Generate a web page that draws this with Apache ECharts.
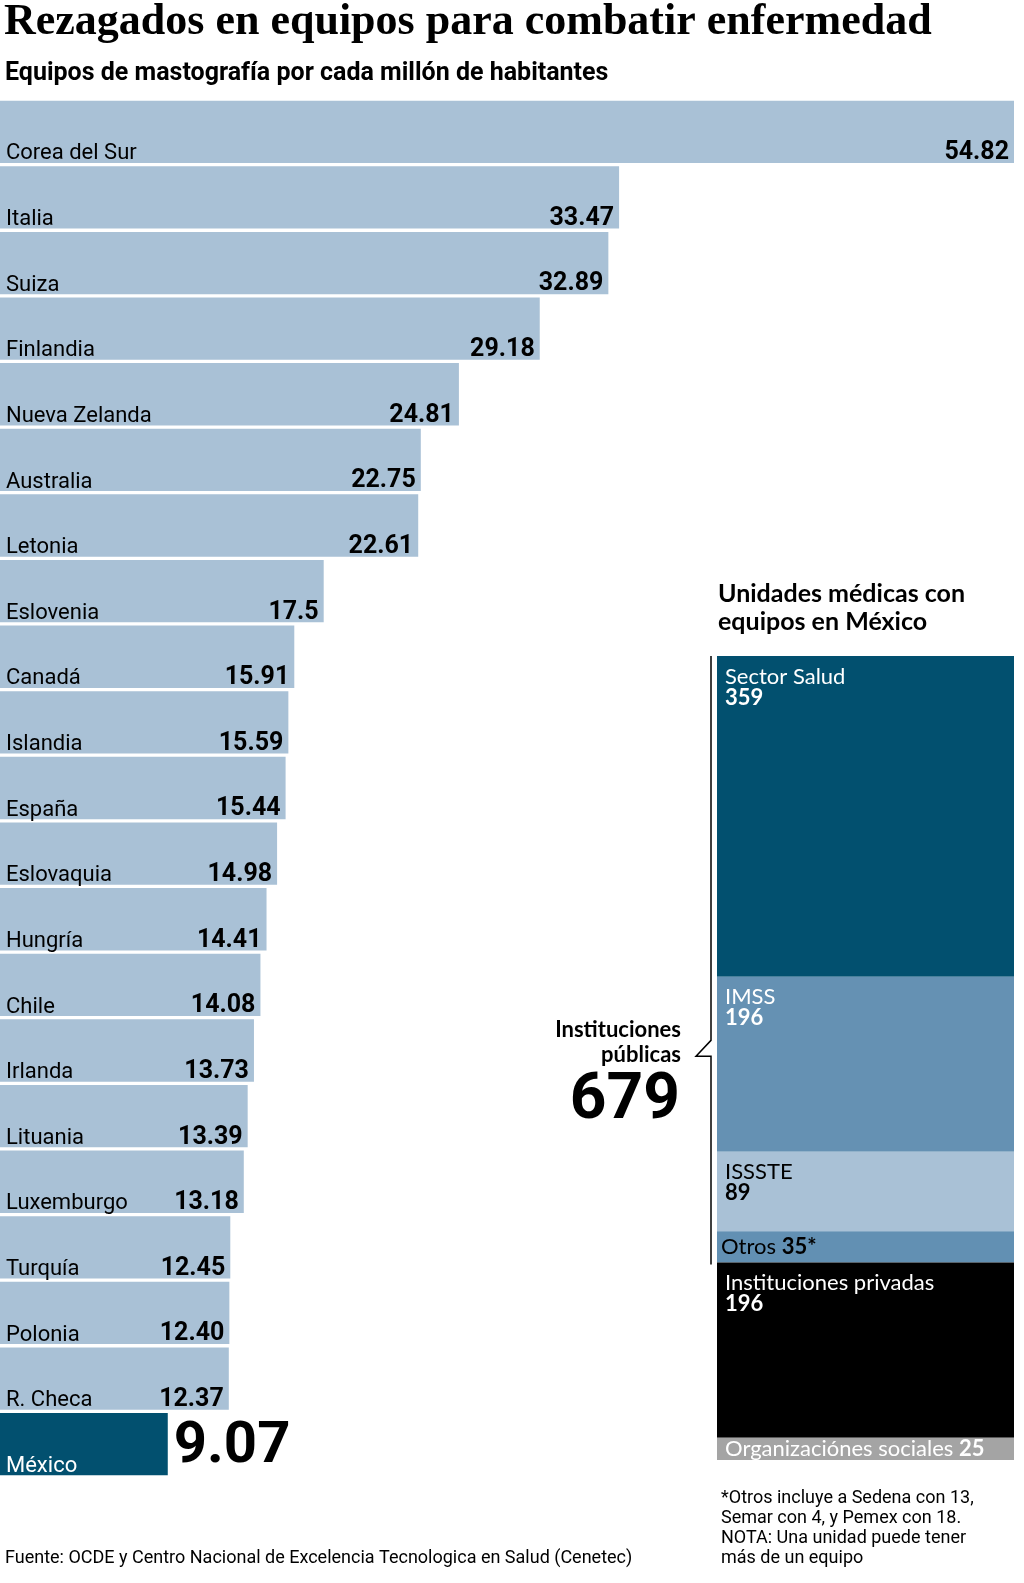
<!DOCTYPE html>
<html lang="es">
<head>
<meta charset="utf-8">
<title>Rezagados en equipos para combatir enfermedad</title>
<script src="https://cdn.jsdelivr.net/npm/echarts@6/dist/echarts.min.js"></script>
<style>
  html, body { margin: 0; padding: 0; background: #ffffff; overflow: hidden; }
  #chart { width: 1024px; height: 1583px; }
</style>
</head>
<body>
<div id="chart"></div>
<script>
/* ------------------------------------------------------------------ */
/*  Datos                                                              */
/* ------------------------------------------------------------------ */

/** Países (de arriba hacia abajo) */
const countries = [
  'Corea del Sur', 'Italia', 'Suiza', 'Finlandia', 'Nueva Zelanda', 'Australia',
  'Letonia', 'Eslovenia', 'Canadá', 'Islandia', 'España', 'Eslovaquia',
  'Hungría', 'Chile', 'Irlanda', 'Lituania', 'Luxemburgo', 'Turquía',
  'Polonia', 'R. Checa', 'México'
];

/** Equipos de mastografía por cada millón de habitantes */
const perMillion = [
  54.82, 33.47, 32.89, 29.18, 24.81, 22.75,
  22.61, 17.5, 15.91, 15.59, 15.44, 14.98,
  14.41, 14.08, 13.73, 13.39, 13.18, 12.45,
  12.40, 12.37, 9.07
];

/** Texto de cada valor tal como aparece (conserva ceros) */
const perMillionText = [
  '54.82', '33.47', '32.89', '29.18', '24.81', '22.75',
  '22.61', '17.5', '15.91', '15.59', '15.44', '14.98',
  '14.41', '14.08', '13.73', '13.39', '13.18', '12.45',
  '12.40', '12.37', '9.07'
];

/** Unidades médicas con equipos en México */
const unitNames = [
  'Sector Salud', 'IMSS', 'ISSSTE', 'Otros',
  'Instituciones privadas', 'Organizaciónes sociales'
];
const unitValues = [359, 196, 89, 35, 196, 25];
const unitIsPublic = [true, true, true, true, false, false];

/* ------------------------------------------------------------------ */
/*  Estilo y maquetación                                               */
/* ------------------------------------------------------------------ */

const NARROW = 'Roboto, "Noto Sans", sans-serif';
const SANS = 'Lato, "Noto Sans", sans-serif';
const SERIF = '"Liberation Serif", "DejaVu Serif", serif';

const LIGHT = '#a9c1d6';
const DARK = '#02506f';
const MID = '#6591b3';

const unitColors = [DARK, MID, LIGHT, '#6290b3', '#000000', '#a4a4a4'];
const unitTextColors = ['#fff', '#fff', '#000', '#000', '#fff', '#fff'];

/** Rejilla de la columna apilada */
const UNIT_GRID = { left: 717, width: 297, top: 656, height: 804 };

const publicTotal = unitValues.reduce((s, v, i) => s + (unitIsPublic[i] ? v : 0), 0);
const grandTotal = unitValues.reduce((s, v) => s + v, 0);

/* ------------------------------------------------------------------ */
/*  Series                                                             */
/* ------------------------------------------------------------------ */

const lastIdx = countries.length - 1;

/** Barras con el valor al extremo derecho */
const valueData = perMillion.map((v, i) => {
  if (i !== lastIdx) return { value: v };
  return {
    value: v,
    itemStyle: { color: DARK },
    label: {
      position: 'right',
      distance: 6,
      fontSize: 58,
      lineHeight: 58,
      color: '#000',
      offset: [0, 3]
    }
  };
});

/** Capa transparente encima, sólo para el nombre del país */
const nameData = perMillion.map((v, i) => ({
  value: v,
  label: i === lastIdx ? { color: '#fff' } : {}
}));

/** Columna apilada de unidades */
const unitSeries = unitNames.map((name, i) => {
  const small = unitValues[i] < 50;
  return {
    name,
    type: 'bar',
    stack: 'unidades',
    xAxisIndex: 1,
    yAxisIndex: 1,
    barWidth: '100%',
    silent: true,
    itemStyle: { color: unitColors[i] },
    data: [unitValues[i]],
    label: {
      show: true,
      position: small ? 'insideLeft' : 'insideTopLeft',
      distance: small ? (i === 3 ? 4 : 8) : 8,
      offset: small ? [0, 0] : [0, 2],
      color: unitTextColors[i],
      fontFamily: SANS,
      fontSize: 22,
      lineHeight: 20,
      formatter: small
        ? '{n|' + name + '} {b|' + unitValues[i] + (i === 3 ? '*' : '') + '}'
        : '{n|' + name + '}\n{b|' + unitValues[i] + '}',
      rich: {
        n: { fontFamily: SANS, fontSize: 22, lineHeight: 21, color: unitTextColors[i] },
        b: { fontFamily: SANS, fontSize: 22, lineHeight: 21, fontWeight: 'bold', color: unitTextColors[i] }
      }
    }
  };
});

/* ------------------------------------------------------------------ */
/*  Opciones                                                           */
/* ------------------------------------------------------------------ */

const option = {
  animation: false,
  backgroundColor: '#ffffff',
  title: [
    {
      id: 'titulo',
      text: 'Rezagados en equipos para combatir enfermedad',
      left: -1, top: -4,
      textStyle: { fontFamily: SERIF, fontSize: 44, fontWeight: 'bold', color: '#000' }
    },
    {
      id: 'subtitulo',
      text: 'Equipos de mastografía por cada millón de habitantes',
      left: 0, top: 56,
      textStyle: { fontFamily: NARROW, fontSize: 25, fontWeight: 'bold', color: '#000' }
    },
    {
      id: 'unidades',
      text: 'Unidades médicas con\nequipos en México',
      left: 713, top: 575,
      textStyle: { fontFamily: SANS, fontSize: 25, fontWeight: 'bold', color: '#000', lineHeight: 28 }
    },
    {
      id: 'nota',
      text: '*Otros incluye a Sedena con 13,\nSemar con 4, y Pemex con 18.\nNOTA: Una unidad puede tener\nmás de un equipo',
      left: 716, top: 1483,
      textStyle: { fontFamily: NARROW, fontSize: 18, fontWeight: 'normal', color: '#000', lineHeight: 20 }
    },
    {
      id: 'fuente',
      text: 'Fuente: OCDE y Centro Nacional de Excelencia Tecnologica en Salud (Cenetec)',
      left: 0, top: 1544,
      textStyle: { fontFamily: NARROW, fontSize: 18, fontWeight: 'normal', color: '#000' }
    }
  ],
  grid: [
    { left: 0, right: 10, top: 99, height: 1378, containLabel: false },
    { ...UNIT_GRID, containLabel: false }
  ],
  xAxis: [
    { type: 'value', min: 0, max: 54.82, show: false },
    { type: 'category', gridIndex: 1, data: ['México'], show: false }
  ],
  yAxis: [
    { type: 'category', data: countries, inverse: true, show: false },
    { type: 'value', gridIndex: 1, min: 0, max: grandTotal, inverse: true, show: false }
  ],
  series: [
    {
      name: 'valor',
      type: 'bar',
      barCategoryGap: '5%',
      silent: true,
      itemStyle: { color: LIGHT },
      data: valueData,
      label: {
        show: true,
        position: 'insideBottomRight',
        distance: 1,
        offset: [-4, 3],
        fontFamily: NARROW,
        fontSize: 25,
        lineHeight: 24,
        fontWeight: 'bold',
        color: '#000',
        formatter: (p) => perMillionText[p.dataIndex]
      }
    },
    {
      name: 'país',
      type: 'bar',
      barGap: '-100%',
      barCategoryGap: '5%',
      silent: true,
      itemStyle: { color: 'rgba(0,0,0,0)' },
      data: nameData,
      label: {
        show: true,
        position: 'insideBottomLeft',
        distance: 1,
        offset: [5, 3],
        fontFamily: NARROW,
        fontSize: 22,
        lineHeight: 22,
        color: '#000',
        formatter: (p) => countries[p.dataIndex]
      }
    },
    ...unitSeries
  ]
};

const chart = echarts.init(document.getElementById('chart'), null, { renderer: 'canvas' });
chart.setOption(option);

/* ------------------------------------------------------------------ */
/*  Corchete de instituciones públicas                                 */
/* ------------------------------------------------------------------ */

const yTop = chart.convertToPixel({ yAxisIndex: 1 }, 0);
const yEnd = chart.convertToPixel({ yAxisIndex: 1 }, publicTotal);
const xLine = UNIT_GRID.left - 6;
const yTip = yTop + (yEnd - yTop) * 0.66;
const xText = xLine - 35;

chart.setOption({
  title: [
    {
      id: 'publicas',
      text: 'Instituciones\npúblicas',
      left: xText, top: yTip - 44,
      textAlign: 'right',
      textStyle: { fontFamily: SANS, fontSize: 22, fontWeight: 'bold', color: '#000', lineHeight: 25 }
    },
    {
      id: 'publicasTotal',
      text: String(publicTotal),
      left: xText - 1, top: yTip + 9,
      textAlign: 'right',
      textStyle: { fontFamily: NARROW, fontSize: 64, fontWeight: 'bold', color: '#000', lineHeight: 64 }
    }
  ],
  graphic: [
    {
      type: 'polyline',
      silent: true,
      z: 100,
      shape: {
        points: [
          [xLine, yTop], [xLine, yTip - 16], [xLine - 15, yTip],
          [xLine, yTip], [xLine, yEnd + 2]
        ]
      },
      style: { stroke: '#000', lineWidth: 1.5, fill: null }
    }
  ]
});
</script>
</body>
</html>
